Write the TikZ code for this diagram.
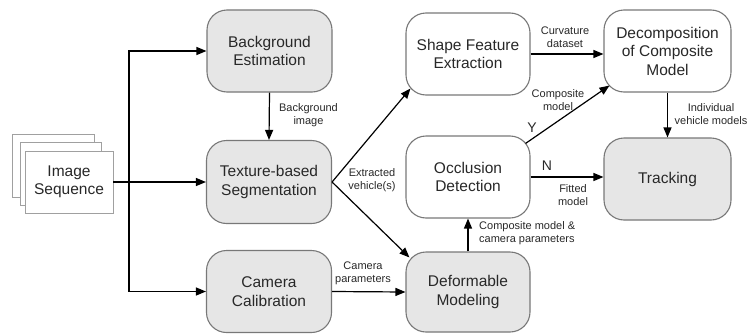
\documentclass[tikz,border=0pt]{standalone}
\usepackage{fontspec}
\setmainfont{Liberation Sans}
\usetikzlibrary{arrows.meta,calc}
\definecolor{boxfill}{RGB}{230,230,230}
\definecolor{boxline}{RGB}{120,120,120}
\definecolor{txt}{RGB}{40,40,40}
\tikzset{
  proc/.style={draw=boxline, line width=1.1pt, rounded corners=20pt, minimum width=125pt, minimum height=82pt, align=center, text=txt, font=\fontsize{15.5}{18.5}\selectfont, inner sep=0pt},
  grayproc/.style={proc, fill=boxfill},
  whiteproc/.style={proc, fill=white},
  frame/.style={draw=boxline!70, line width=0.9pt, fill=white},
  arr/.style={line width=1.2pt, -{Triangle[length=10pt,width=8pt]}},
  lbl/.style={font=\fontsize{11}{13}\selectfont, align=center, text=txt, inner sep=0pt},
  yn/.style={font=\fontsize{14}{16}\selectfont, text=txt, inner sep=0pt}
}
\begin{document}
\begin{tikzpicture}[x=1pt,y=1pt]
\useasboundingbox (0,0) rectangle (751,333);
% image stack
\path[frame] (12,199) rectangle (94,136);
\path[frame] (20,191) rectangle (101,128);
\node[frame, minimum width=88pt, minimum height=62pt, align=center, text=txt, font=\fontsize{15.5}{18.5}\selectfont, inner sep=0pt] (img) at (69,151) {Image\\Sequence};
% process boxes
\node[grayproc] (bg) at (269.5,282) {Background\\Estimation};
\node[grayproc, minimum height=83pt] (tex) at (269,151) {Texture-based\\Segmentation};
\node[grayproc] (cam) at (269,41.5) {Camera\\Calibration};
\node[whiteproc, minimum width=124pt] (shape) at (468,279) {Shape Feature\\Extraction};
\node[whiteproc, minimum width=127pt] (dec) at (667.5,282) {Decomposition\\of Composite\\Model};
\node[whiteproc, minimum width=124pt] (occ) at (468,156) {Occlusion\\Detection};
\node[grayproc, minimum width=127pt] (trk) at (667.5,154) {Tracking};
\node[grayproc, minimum width=124pt, minimum height=80pt] (def) at (468,41) {Deformable\\Modeling};
% bus
\coordinate (bus) at (129,151);
\draw[arr] (img.east) -- (tex.west);
\draw[arr] (bus) |- (bg.west);
\draw[arr] (bus) |- (cam.west);
% connectors
\draw[arr] (bg.south) -- (tex.north);
\draw[arr] (tex.east) -- ($(shape.south west)+(5,7)$);
\draw[arr] (tex.east) -- ($(def.north west)+(4,-6)$);
\draw[arr] (cam.east) -- (def.west);
\draw[arr] (def.north) -- (occ.south);
\draw[arr] (shape.east) -- (shape.east -| dec.west);
\draw[arr] ($(occ.north east)+(-5,-8)$) -- ($(dec.south west)+(6,7)$);
\draw[arr] (occ.east) -- (occ.east -| trk.west);
\draw[arr] (dec.south) -- (trk.north);
% labels
\node[lbl] (lbg) at (308.5,218) {Background\\image};
\node[lbl] (lext) at (372,153) {Extracted\\vehicle(s)};
\node[lbl] (lcam) at (363,60) {Camera\\parameters};
\node[lbl] (lcur) at (565,296) {Curvature\\dataset};
\node[lbl] (lcomp) at (558,233) {Composite\\model};
\node[yn] (ly) at (532,205) {Y};
\node[yn] (ln) at (547,167) {N};
\node[lbl] (lfit) at (573,138) {Fitted\\model};
\node[lbl] (lind) at (711,219) {Individual\\vehicle models};
\node[lbl, anchor=west, align=left] (lcmc) at (479,99.5) {Composite model \&\\camera parameters};
\end{tikzpicture}
\end{document}
